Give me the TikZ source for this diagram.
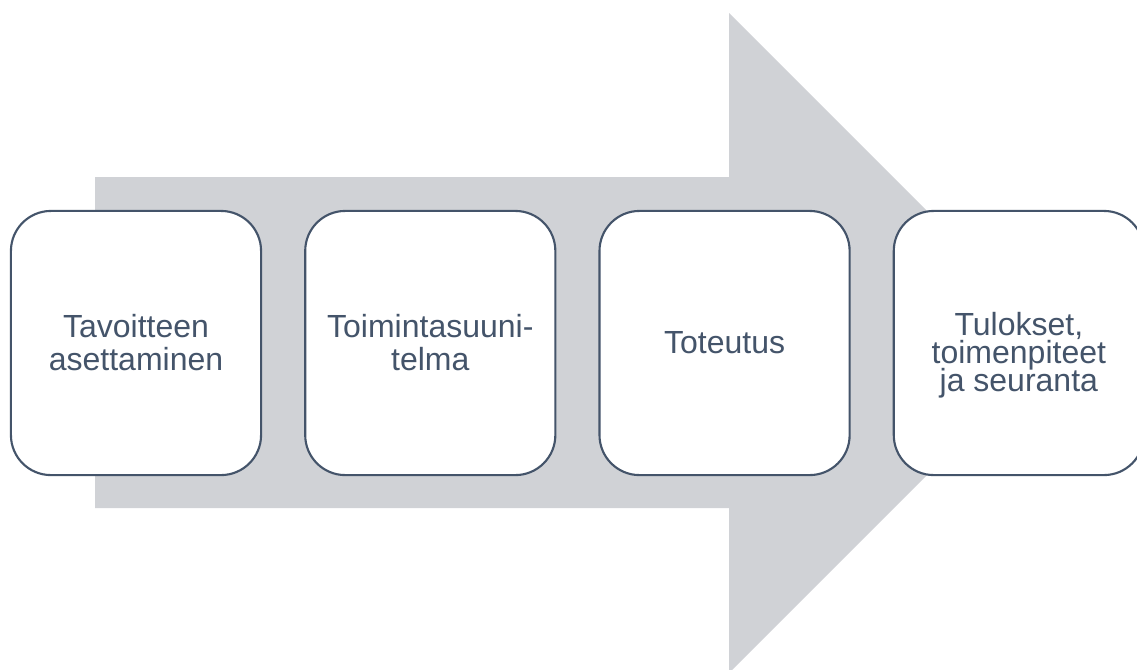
\documentclass[tikz,border=0pt]{standalone}
\usepackage{fontspec}
\setmainfont{Liberation Sans}
\usepackage{xcolor}
\usetikzlibrary{positioning}
\definecolor{stageline}{RGB}{68,84,106}
\definecolor{arrowgray}{RGB}{208,210,214}

\begin{document}
\begin{tikzpicture}[
    x=0.01cm, y=-0.01cm,
    node distance=0.42cm,
    stage/.style={draw=stageline, line width=0.6pt, fill=white, rectangle, rounded corners=0.4cm,
        minimum width=2.5cm, minimum height=2.64cm, align=center, text=stageline,
        font=\fontsize{9.1}{9.4}\selectfont}
]
    \useasboundingbox (0,0) rectangle (1137,669);
    % Big arrow behind the steps
    \fill[arrowgray] (95,177) -- (729,177) -- (729,13) -- (1059,343) -- (729,673)
        -- (729,508) -- (95,508) -- cycle;

    % Steps
    \node[stage] (goal) at (136,343) {Tavoitteen\\asettaminen};
    \node[stage, right=of goal] (plan) {Toimintasuuni-\\telma};
    \node[stage, right=of plan] (impl) {Toteutus};
    \node[stage, right=of impl] (result) {};
    \node[font=\fontsize{9.1}{9.4}\selectfont, align=center, text=stageline, yshift=-0.12cm]
        (resulttext) at (result) {Tulokset,\\[-1.5pt]toimenpiteet\\[-1.5pt]ja seuranta};
\end{tikzpicture}
\end{document}
